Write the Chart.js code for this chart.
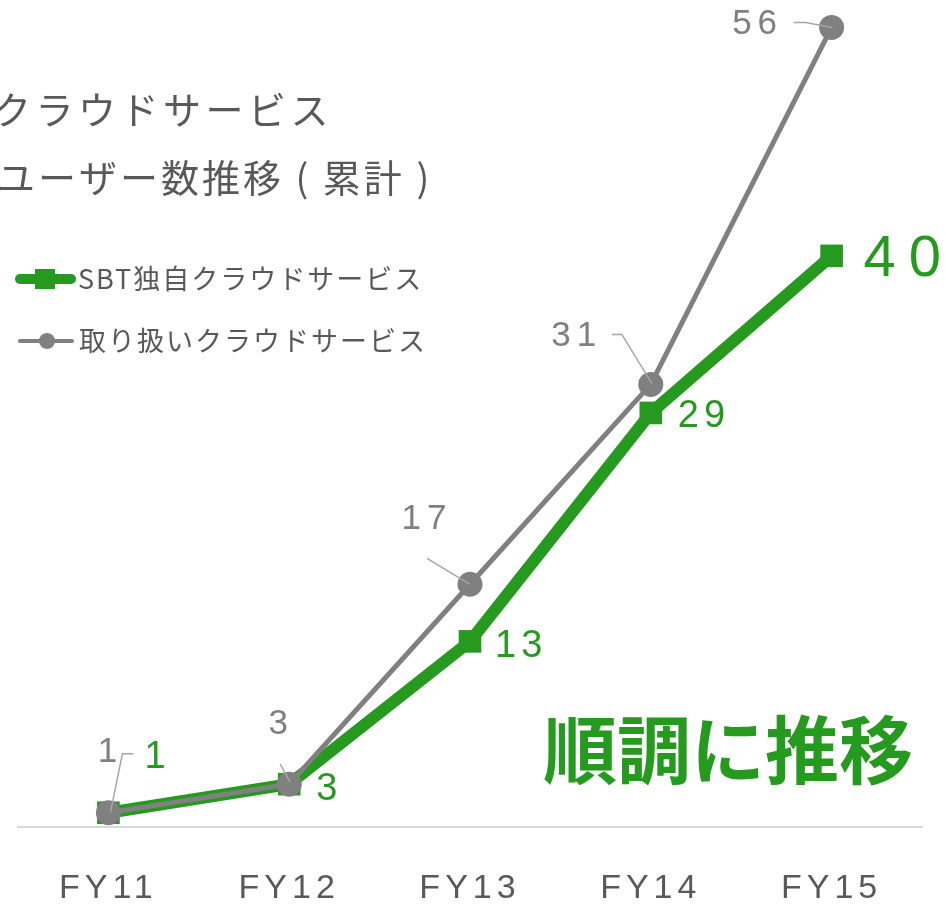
<!DOCTYPE html>
<html lang="ja">
<head>
<meta charset="UTF-8">
<title>クラウドサービス ユーザー数推移</title>
<script src="https://cdn.jsdelivr.net/npm/chart.js"></script>
<style>
  html, body { margin: 0; padding: 0; background: #fff; }
  #wrap { width: 946px; height: 905px; }
</style>
</head>
<body>
<div id="wrap"><canvas id="grafico" width="946" height="905"></canvas></div>

<script>
// dados
const anos = ['FY11', 'FY12', 'FY13', 'FY14', 'FY15'];
const sbtProprio = [1, 3, 13, 29, 40];
const revenda = [1, 3, 17, 31, 56];
const nomeSbt = 'SBT独自クラウドサービス';
const nomeRevenda = '取り扱いクラウドサービス';
const tituloLinhas = ['クラウドサービス', 'ユーザー数推移 ( 累計 )'];
const destaque = '順調に推移';

const VERDE = '#259a1f';
const CINZA = '#808080';
const TEXTO = '#595959';

// onde cada rótulo fica em relação ao ponto
const posVerde = [[36, -55], [27, 5], [25, 5], [27, 4], [32, 4]];
const tamVerde = [38, 38, 38, 38, 58];
const espVerde = [5, 5, 5, 5, 13];
const posCinza = [[2, -60], [-8, -60], [-43, -65], [-74, -48], [-74, -3]];
// linhas de chamada (relativas ao ponto)
const guias = [
  [[25, -59], [14, -59], [2, 0]],
  [[-9, -20], [1, -2]],
  [[-43, -26], [0, 0]],
  [[-39, -50], [-29, -50], [1, -1]],
  [[-38, -5], [-26, -5], [1, 0]]
];

function texto(ctx, str, x, y, font, cor, espaco, align) {
  ctx.save();
  ctx.font = font;
  ctx.fillStyle = cor;
  ctx.letterSpacing = espaco + 'px';
  ctx.textAlign = align || 'center';
  ctx.textBaseline = 'middle';
  ctx.fillText(str, x, y);
  ctx.restore();
}

const rotulos = {
  id: 'rotulos',
  beforeDraw(chart) {
    // espaçamento dos rótulos do eixo x
    chart.ctx.letterSpacing = '5px';
  },
  afterDatasetsDraw(chart) {
    const ctx = chart.ctx;
    ctx.letterSpacing = '0px';
    const ptsVerde = chart.getDatasetMeta(0).data;
    const ptsCinza = chart.getDatasetMeta(1).data;

    // linhas de chamada
    ctx.save();
    ctx.strokeStyle = '#a6a6a6';
    ctx.lineWidth = 1.5;
    ptsCinza.forEach((p, i) => {
      ctx.beginPath();
      guias[i].forEach((g, k) => {
        if (k === 0) ctx.moveTo(p.x + g[0], p.y + g[1]);
        else ctx.lineTo(p.x + g[0], p.y + g[1]);
      });
      ctx.stroke();
    });
    ctx.restore();

    ptsCinza.forEach((p, i) => {
      texto(ctx, String(revenda[i]), p.x + posCinza[i][0], p.y + posCinza[i][1],
        '35px "Liberation Sans", Arial, sans-serif', CINZA, 6);
    });
    ptsVerde.forEach((p, i) => {
      texto(ctx, String(sbtProprio[i]), p.x + posVerde[i][0], p.y + posVerde[i][1],
        tamVerde[i] + 'px "Liberation Sans", Arial, sans-serif', VERDE, espVerde[i], 'left');
    });
  },
  afterDraw(chart) {
    const ctx = chart.ctx;
    const jp = '"Noto Sans CJK JP", sans-serif';

    // título
    texto(ctx, tituloLinhas[0], -7, 110, '38px ' + jp, TEXTO, 4.5, 'left');
    texto(ctx, tituloLinhas[1], -3, 178, '38px ' + jp, TEXTO, 3, 'left');

    // legenda
    ctx.save();
    ctx.lineCap = 'round';
    ctx.strokeStyle = VERDE;
    ctx.lineWidth = 10;
    ctx.beginPath(); ctx.moveTo(20, 279); ctx.lineTo(71, 279); ctx.stroke();
    ctx.fillStyle = VERDE;
    ctx.fillRect(35, 269, 20, 20);
    ctx.strokeStyle = CINZA;
    ctx.lineWidth = 4;
    ctx.beginPath(); ctx.moveTo(20, 341); ctx.lineTo(72, 341); ctx.stroke();
    ctx.fillStyle = CINZA;
    ctx.beginPath(); ctx.arc(47, 341, 8, 0, Math.PI * 2); ctx.fill();
    ctx.restore();
    texto(ctx, nomeSbt, 78, 279, '27px ' + jp, TEXTO, 2, 'left');
    texto(ctx, nomeRevenda, 79, 341, '27px ' + jp, TEXTO, 2, 'left');

    // destaque
    texto(ctx, destaque, 543, 750, 'bold 74px ' + jp, VERDE, 0, 'left');
  }
};

new Chart(document.getElementById('grafico'), {
  type: 'line',
  data: {
    labels: anos,
    datasets: [
      {
        label: nomeSbt,
        data: sbtProprio,
        borderColor: VERDE,
        backgroundColor: VERDE,
        borderWidth: 12,
        pointStyle: 'rect',
        pointRadius: 16,
        pointBorderWidth: 0,
        tension: 0,
        clip: false,
        order: 1
      },
      {
        label: nomeRevenda,
        data: revenda,
        borderColor: CINZA,
        backgroundColor: CINZA,
        borderWidth: 5,
        pointStyle: 'circle',
        pointRadius: 12.5,
        pointBorderWidth: 0,
        tension: 0,
        clip: false,
        order: 0
      }
    ]
  },
  options: {
    responsive: false,
    animation: false,
    events: [],
    layout: { padding: { left: 18, right: 24, top: 0, bottom: 0 } },
    plugins: {
      legend: { display: false },
      title: { display: false },
      tooltip: { enabled: false }
    },
    scales: {
      x: {
        offset: true,
        grid: { display: false, drawTicks: false },
        border: { display: true, color: '#d9d9d9', width: 2 },
        ticks: {
          color: TEXTO,
          padding: 41,
          font: { family: '"Liberation Sans", Arial, sans-serif', size: 34 }
        },
        afterFit(scale) { scale.height = 78; }
      },
      y: {
        display: false,
        min: 0,
        max: 56.8
      }
    }
  },
  plugins: [rotulos]
});
</script>
</body>
</html>
